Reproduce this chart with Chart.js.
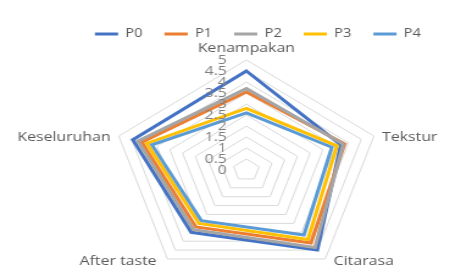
<!DOCTYPE html>
<html lang="id">
<head>
    <meta charset="UTF-8">
    <title>Radar Chart</title>
    <script src="https://cdn.jsdelivr.net/npm/chart.js"></script>
</head>
<style>
    body{
        margin: 0;
        background: #ffffff;
        overflow: hidden;
    }
    /* the original picture is stretched sideways, so the chart is drawn narrow and scaled;
       it is a bit larger than the window, the bottom labels are cut like in the original */
    #chartWrap{
        width: 405px;
        height: 280px;
        transform: scale(1.2196, 1);
        transform-origin: 0 0;
    }
</style>
<body>
    <div id="chartWrap">
        <canvas id="RadarChartCanvas"></canvas>
    </div>
    <script>
        var categories = ['Kenampakan', 'Tekstur', 'Citarasa', 'After taste', 'Keseluruhan'];
        var seriesNames = ['P0', 'P1', 'P2', 'P3', 'P4'];
        var p0Values = [4.5, 3.7, 4.5, 3.5, 4.45];
        var p1Values = [3.55, 3.85, 4.1, 3.2, 4.1];
        var p2Values = [3.7, 3.8, 4.35, 3.35, 4.25];
        var p3Values = [2.8, 3.55, 3.9, 3.0, 3.9];
        var p4Values = [2.6, 3.35, 3.65, 2.85, 3.7];
        var tickLabels = ['0', '0.5', '1', '1.5', '2', '2.5', '3', '3.5', '4', '4.5', '5'];
        var seriesColors = ['#4472C4', '#ED7D31', '#A5A5A5', '#FFC000', '#5B9BD5'];

        var allValues = [p0Values, p1Values, p2Values, p3Values, p4Values];

        // Excel-like labels: value labels left of the vertical axis,
        // category labels beside the corners instead of above/below them
        var excelLabelPlugin = {
            id: 'excelLabelPlugin',
            afterLayout: function (chart) {
                // legend sits higher and a bit right of the chart centre in the original
                chart.legend.left += 9;
                chart.legend.right += 9;
                chart.legend.top -= 10;
                chart.legend.bottom -= 10;
            },
            afterDatasetsDraw: function (chart) {
                var scale = chart.scales.r;
                var ctx = chart.ctx;
                ctx.save();
                ctx.font = '13px "Open Sans"';
                ctx.fillStyle = '#808080';
                ctx.textAlign = 'right';
                ctx.textBaseline = 'middle';
                tickLabels.forEach(function (label) {
                    var d = scale.getDistanceFromCenterForValue(parseFloat(label));
                    ctx.fillText(label, scale.xCenter - 16, scale.yCenter - d);
                });

                ctx.fillStyle = '#595959';
                categories.forEach(function (name, i) {
                    var p = scale.getPointPosition(i, scale.drawingArea);
                    var dx = p.x - scale.xCenter;
                    var dy = p.y - scale.yCenter;
                    var x, y;
                    if (Math.abs(dx) < 1) {
                        p = scale.getPointPosition(i, scale.drawingArea + 12);
                        x = p.x;
                        y = p.y;
                        ctx.textAlign = 'center';
                    } else if (dy < 0) {
                        p = scale.getPointPosition(i, scale.drawingArea + 7);
                        x = p.x;
                        y = p.y + 3;
                        ctx.textAlign = dx > 0 ? 'left' : 'right';
                    } else {
                        p = scale.getPointPosition(i, scale.drawingArea + 5);
                        x = p.x + (dx > 0 ? 4 : -6);
                        y = p.y - 2;
                        ctx.textAlign = dx > 0 ? 'left' : 'right';
                    }
                    ctx.fillText(name, x, y);
                });
                ctx.restore();
            }
        };

        var datasets = allValues.map(function (values, i) {
            return {
                label: seriesNames[i],
                data: values,
                borderColor: seriesColors[i],
                backgroundColor: seriesColors[i],
                borderWidth: 3,
                pointRadius: 0,
                fill: false,
                order: allValues.length - i
            };
        });

        var ctx = document.getElementById('RadarChartCanvas').getContext('2d');
        window.myChart = new Chart(ctx, {
            type: 'radar',
            data: {
                labels: categories,
                datasets: datasets
            },
            options: {
                responsive: true,
                maintainAspectRatio: false,
                animation: false,
                layout: {
                    padding: { top: 20, bottom: 0, left: 0, right: 0 }
                },
                elements: {
                    line: { tension: 0, borderJoinStyle: 'miter' }
                },
                scales: {
                    r: {
                        min: 0,
                        max: 5,
                        ticks: {
                            stepSize: 0.5,
                            display: false
                        },
                        grid: {
                            color: '#d9d9d9',
                            lineWidth: 1
                        },
                        angleLines: {
                            display: false
                        },
                        pointLabels: {
                            display: false
                        }
                    }
                },
                plugins: {
                    legend: {
                        display: true,
                        position: 'top',
                        labels: {
                            usePointStyle: true,
                            pointStyle: 'line',
                            pointStyleWidth: 19,
                            boxHeight: 12,
                            padding: 18,
                            color: '#595959',
                            font: { family: 'Open Sans', size: 12 },
                            sort: function (a, b) {
                                return a.datasetIndex - b.datasetIndex;
                            }
                        }
                    },
                    tooltip: { enabled: false }
                }
            },
            plugins: [excelLabelPlugin]
        });
    </script>
</body>
</html>
